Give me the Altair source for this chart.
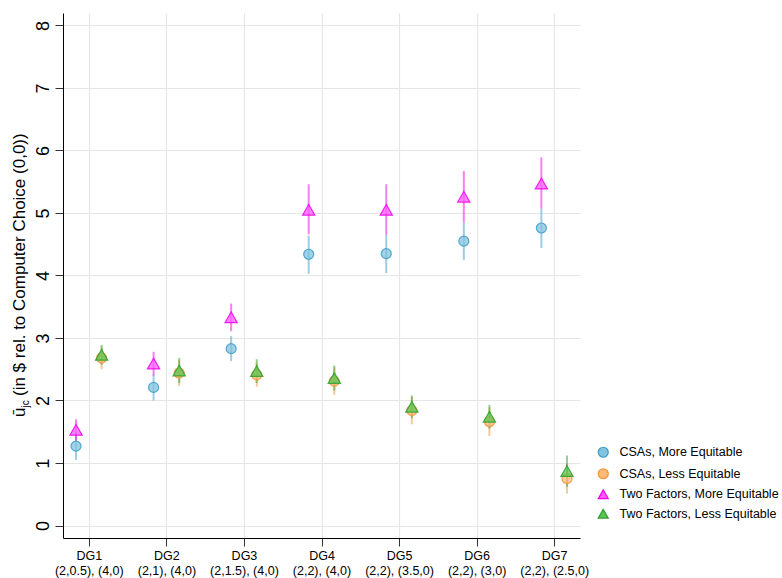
import altair as alt
import pandas as pd

# ---------------- data ----------------
dg = [1, 2, 3, 4, 5, 6, 7]
dg_names = ["DG1", "DG2", "DG3", "DG4", "DG5", "DG6", "DG7"]
dg_payoffs = ["(2,0.5), (4,0)", "(2,1), (4,0)", "(2,1.5), (4,0)", "(2,2), (4,0)",
              "(2,2), (3.5,0)", "(2,2), (3,0)", "(2,2), (2.5,0)"]

series = ["CSAs, More Equitable", "CSAs, Less Equitable",
          "Two Factors, More Equitable", "Two Factors, Less Equitable"]
series_offset = [-0.165, 0.165, -0.165, 0.165]

csa_more = [1.27, 2.21, 2.83, 4.34, 4.35, 4.55, 4.76]
csa_more_lo = [1.05, 2.00, 2.63, 4.03, 4.04, 4.25, 4.44]
csa_more_hi = [1.49, 2.42, 3.03, 4.64, 4.65, 4.85, 5.07]

csa_less = [2.68, 2.44, 2.41, 2.31, 1.84, 1.66, 0.75]
csa_less_lo = [2.50, 2.23, 2.22, 2.09, 1.62, 1.43, 0.51]
csa_less_hi = [2.86, 2.65, 2.60, 2.53, 2.06, 1.89, 0.99]

tf_more = [1.53, 2.59, 3.33, 5.05, 5.05, 5.26, 5.47]
tf_more_lo = [1.36, 2.40, 3.11, 4.66, 4.65, 4.85, 5.07]
tf_more_hi = [1.70, 2.78, 3.55, 5.46, 5.46, 5.67, 5.89]

tf_less = [2.73, 2.48, 2.47, 2.36, 1.90, 1.74, 0.87]
tf_less_lo = [2.57, 2.28, 2.28, 2.16, 1.72, 1.55, 0.62]
tf_less_hi = [2.89, 2.68, 2.66, 2.56, 2.08, 1.93, 1.12]

y_ticks = [0, 1, 2, 3, 4, 5, 6, 7, 8]

# ---------------- table ----------------
vals = [(csa_more, csa_more_lo, csa_more_hi), (csa_less, csa_less_lo, csa_less_hi),
        (tf_more, tf_more_lo, tf_more_hi), (tf_less, tf_less_lo, tf_less_hi)]
rows = []
for si, (s, (v, lo, hi)) in enumerate(zip(series, vals)):
    for i, d in enumerate(dg):
        rows.append({"series": s, "order": si, "dg": d, "off": series_offset[si],
                     "value": v[i], "lo": lo[i], "hi": hi[i]})
df = pd.DataFrame(rows)

fill_range = ["#82c3df", "#fdb97a", "#ff5cff", "#5cc452"]
stroke_range = ["#3b9cc8", "#f39237", "#f000f0", "#2ca02c"]
shape_range = ["circle", "circle", "triangle-up", "triangle-up"]

FONT = "Liberation Sans"

label_expr = "".join(
    f"datum.value == {d} ? ['{n}', '{p}'] : " for d, n, p in zip(dg, dg_names, dg_payoffs)
) + "''"

x_scale = alt.Scale(domain=[0.667, 7.333], nice=False, zero=False)
y_scale = alt.Scale(domain=[-0.2, 8.2], nice=False, zero=False)

x_axis = alt.Axis(values=dg, labelExpr=label_expr, title=None, grid=True,
                  gridColor="#e6e6e6", gridWidth=1.2, tickSize=8, tickColor="#333333",
                  domainColor="#000000", labelFont=FONT, labelFontSize=12.5,
                  labelLineHeight=15, labelColor="#000000", labelPadding=3,
                  labelBaseline="top", labelAlign="center")
y_axis = alt.Axis(values=y_ticks, format="d", title=None, grid=True, gridColor="#e6e6e6",
                  gridWidth=1.2, tickSize=8, tickColor="#333333", domainColor="#000000",
                  labelFont=FONT, labelFontSize=18, labelColor="#000000",
                  labelAngle=270, labelAlign="center", labelBaseline="bottom",
                  labelPadding=3)

fill_enc = alt.Fill("series:N", scale=alt.Scale(domain=series, range=fill_range), title=None)
stroke_enc = alt.Stroke("series:N", scale=alt.Scale(domain=series, range=stroke_range), title=None)
shape_enc = alt.Shape("series:N", scale=alt.Scale(domain=series, range=shape_range), title=None)

base = alt.Chart(df).transform_calculate(xpos="datum.dg + datum.off")

ci = base.mark_rule(strokeWidth=2, strokeOpacity=0.5).encode(
    x=alt.X("xpos:Q", scale=x_scale, axis=x_axis),
    y=alt.Y("lo:Q", scale=y_scale, axis=y_axis),
    y2="hi:Q",
    stroke=stroke_enc,
    detail="order:O",
)

circ = base.transform_filter("datum.order < 2").mark_point(
    filled=True, size=100, fillOpacity=0.75, strokeWidth=1.2, strokeOpacity=0.85).encode(
    x=alt.X("xpos:Q", scale=x_scale),
    y=alt.Y("value:Q", scale=y_scale),
    fill=fill_enc, stroke=stroke_enc, shape=shape_enc,
    order="order:Q",
)
tri = base.transform_filter("datum.order >= 2").mark_point(
    filled=True, size=150, fillOpacity=0.75, strokeWidth=1.2, strokeOpacity=0.85).encode(
    x=alt.X("xpos:Q", scale=x_scale),
    y=alt.Y("value:Q", scale=y_scale),
    fill=fill_enc, stroke=stroke_enc, shape=shape_enc,
    order="order:Q",
)

one = pd.DataFrame({"a": [0]})
t1 = alt.Chart(one).mark_text(angle=270, align="left", baseline="alphabetic",
                              font=FONT, fontSize=17, color="#000000").encode(
    x=alt.value(-38), y=alt.value(404), text=alt.value("ū"))
t2 = alt.Chart(one).mark_text(angle=270, align="left", baseline="alphabetic",
                              font=FONT, fontSize=10, color="#000000").encode(
    x=alt.value(-34), y=alt.value(394.5), text=alt.value("jc"))
t3 = alt.Chart(one).mark_text(angle=270, align="left", baseline="alphabetic",
                              font=FONT, fontSize=17, color="#000000").encode(
    x=alt.value(-38), y=alt.value(383), text=alt.value("(in $ rel. to Computer Choice (0,0))"))

chart = alt.layer(ci, circ, tri, t1, t2, t3).properties(
    width=517, height=525,
    padding={"left": 63, "top": 13, "right": 202, "bottom": 40},
    autosize=alt.AutoSizeParams(type="none"),
).configure_view(strokeWidth=0).configure_legend(
    orient="none", legendX=534, legendY=433, padding=0, symbolSize=100,
    labelFont=FONT, labelFontSize=12.5, labelColor="#000000", labelOffset=10,
    rowPadding=5.5, symbolStrokeWidth=1.2,
)

chart.save("out.html", embed_options={"renderer": "svg", "actions": False})
